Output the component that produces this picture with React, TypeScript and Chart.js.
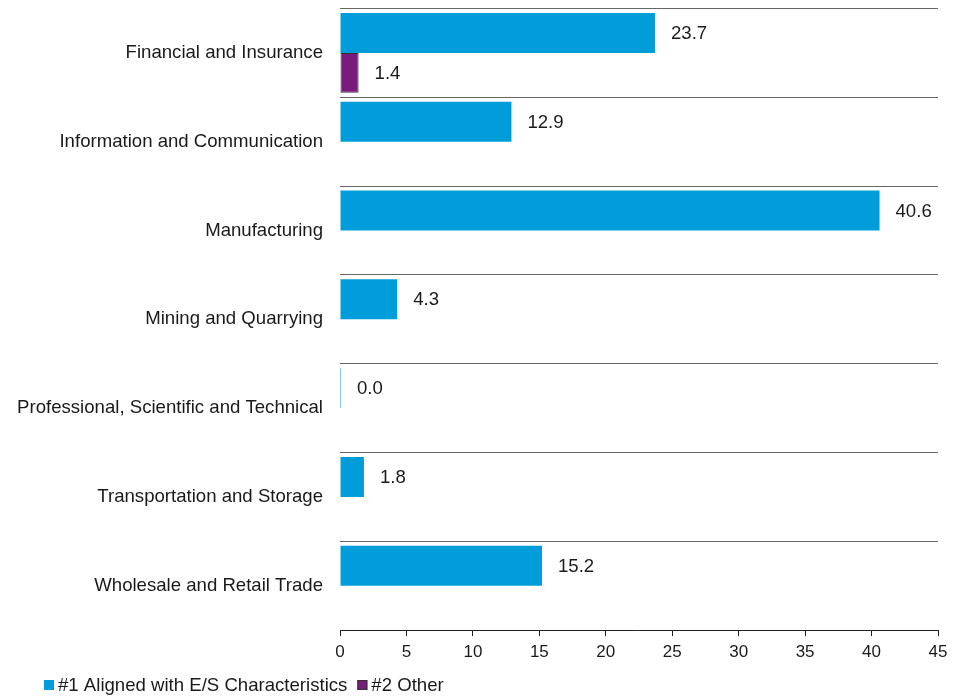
import React, { useEffect, useRef } from "react";
import { Chart, registerables } from "chart.js";

Chart.register(...registerables);

const categories = [
  "Financial and Insurance",
  "Information and Communication",
  "Manufacturing",
  "Mining and Quarrying",
  "Professional, Scientific and Technical",
  "Transportation and Storage",
  "Wholesale and Retail Trade",
];
const alignedValues = [23.7, 12.9, 40.6, 4.3, 0.0, 1.8, 15.2];
const otherValues: (number | null)[] = [1.4, null, null, null, null, null, null];
const seriesNames = ["#1 Aligned with E/S Characteristics", "#2 Other"];
const seriesColors = ["#009DDA", "#7A1A7C"];
const xTicks = [0, 5, 10, 15, 20, 25, 30, 35, 40, 45];

const FONT = "'Liberation Sans', Arial, Helvetica, sans-serif";
const NARROW = "'Liberation Sans Narrow', 'Liberation Sans', Arial, sans-serif";
const TEXT_SIZE = 18.6;

const valueLabels = {
  id: "valueLabels",
  afterDatasetsDraw(chart: any) {
    const ctx = chart.ctx;
    ctx.save();
    ctx.font = `${TEXT_SIZE}px ${FONT}`;
    ctx.fillStyle = "#1a1a1a";
    ctx.textBaseline = "middle";
    ctx.textAlign = "left";
    chart.data.datasets.forEach((ds: any, di: number) => {
      const meta = chart.getDatasetMeta(di);
      meta.data.forEach((el: any, i: number) => {
        const v = ds.data[i];
        if (v === null || v === undefined) return;
        const xEnd = Math.max(el.x, el.base);
        ctx.fillText(v.toFixed(1), xEnd + 16, el.y + 1);
      });
    });
    ctx.restore();
  },
};

const customLegend = {
  id: "customLegend",
  afterDraw(chart: any) {
    const ctx = chart.ctx;
    ctx.save();
    ctx.font = `${TEXT_SIZE}px ${FONT}`;
    ctx.textBaseline = "middle";
    ctx.textAlign = "left";
    let x = 36;
    const y = 677;
    seriesNames.forEach((name, i) => {
      ctx.fillStyle = seriesColors[i];
      ctx.fillRect(x, y - 5, 10, 10);
      if (i === 1) {
        ctx.strokeStyle = "#333";
        ctx.lineWidth = 1;
        ctx.strokeRect(x + 0.5, y - 4.5, 9, 9);
      }
      ctx.fillStyle = "#1a1a1a";
      ctx.fillText(name, x + 14, y + 1);
      x += 14 + ctx.measureText(name).width + 10;
    });
    ctx.restore();
  },
};

export default function App() {
  const ref = useRef<HTMLCanvasElement>(null);
  useEffect(() => {
    if (!ref.current) return;
    const chart = new Chart(ref.current, {
      type: "bar",
      data: {
        labels: categories,
        datasets: [
          {
            label: seriesNames[0],
            data: alignedValues,
            backgroundColor: seriesColors[0],
            borderWidth: 0,
            minBarLength: 1,
            categoryPercentage: 0.9,
            barPercentage: 1.0,
          },
          {
            label: seriesNames[1],
            data: otherValues,
            backgroundColor: seriesColors[1],
            borderColor: "#333",
            borderWidth: 1,
            borderSkipped: false,
            categoryPercentage: 0.9,
            barPercentage: 1.0,
          },
        ],
      },
      options: {
        indexAxis: "y",
        responsive: false,
        animation: false,
        layout: { padding: { left: 0, right: 16, top: 0.5, bottom: 28.5 } },
        plugins: {
          legend: { display: false },
          tooltip: { enabled: false },
        },
        scales: {
          x: {
            min: 0,
            max: 45,
            afterBuildTicks(scale: any) {
              scale.ticks = xTicks.map((v) => ({ value: v }));
            },
            grid: {
              drawOnChartArea: false,
              drawTicks: true,
              tickLength: 6,
              color: "#222",
            },
            border: { display: true, color: "#222", width: 1 },
            ticks: {
              font: { family: NARROW, size: 17 },
              color: "#1a1a1a",
              padding: 6.5,
              maxRotation: 0,
            },
          },
          y: {
            afterFit(scale: any) {
              scale.width = 332;
              scale.paddingTop = 0;
              scale.paddingBottom = 0;
            },
            grid: {
              drawOnChartArea: true,
              drawTicks: true,
              tickLength: 14,
              tickColor: "rgba(0,0,0,0)",
              color: "#666",
              lineWidth: 1,
            },
            border: { display: false },
            ticks: {
              font: { family: FONT, size: TEXT_SIZE },
              color: "#1a1a1a",
              padding: 3,
            },
          },
        },
      },
      plugins: [valueLabels, customLegend],
    });
    return () => chart.destroy();
  }, []);
  return <canvas ref={ref} width={946} height={690} />;
}
